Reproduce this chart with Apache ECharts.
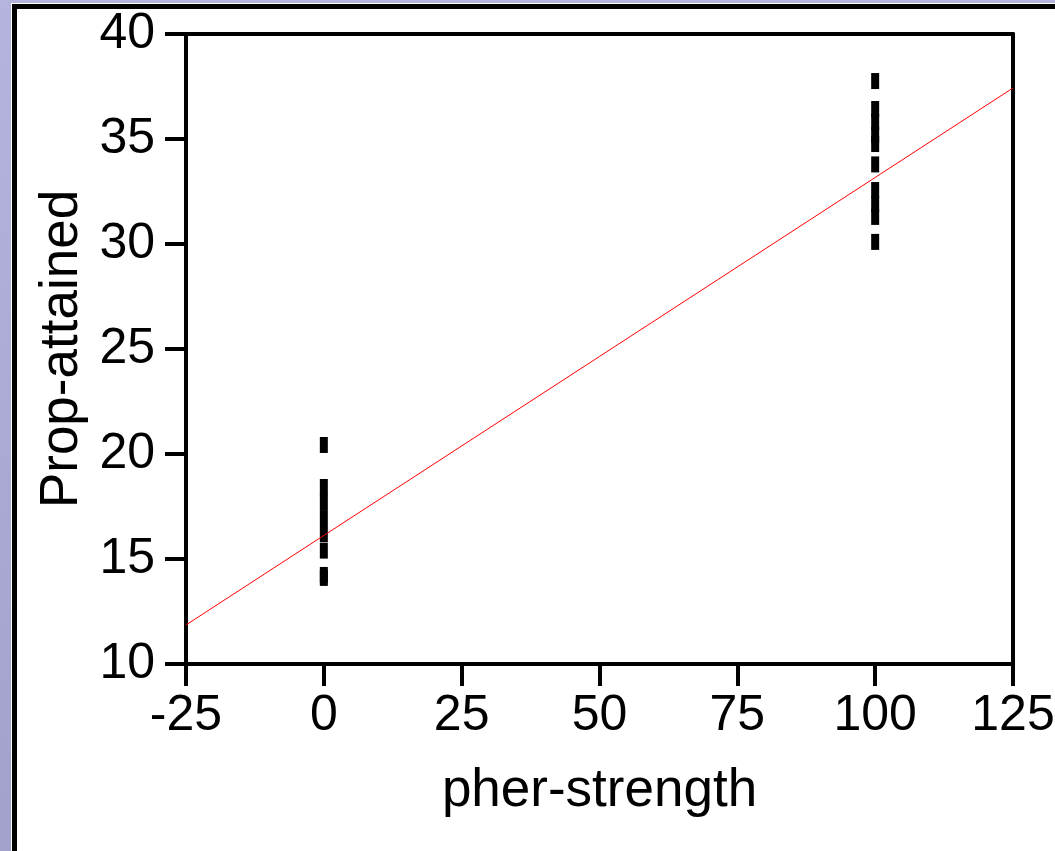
<!DOCTYPE html>
<html>
<head>
<meta charset="utf-8">
<script src="https://cdn.jsdelivr.net/npm/echarts@6/dist/echarts.min.js"></script>
<style>
	html, body {
		margin: 0;
		padding: 0;
		width: 1055px;
		height: 851px;
		overflow: hidden;
		background: linear-gradient(to bottom, #b4b4dd, #a2a1ca);
	}

	#panel {
		position: absolute;
		left: 12px;
		top: 4px;
		width: 1060px;
		height: 860px;
		background-color: #FFF;
		border: 5px solid #000;
		box-shadow: 0 0 0 1px #FFF;
	}

	#echart {
		position: absolute;
		left: 0;
		top: 0;
		width: 1055px;
		height: 851px;
	}
</style>
</head>
<body>
<div id="panel"></div>
<div id="echart"></div>
<script>
	// 刻度
	var xTicks = [-25, 125, 25];   // min, max, interval
	var yTicks = [10, 40, 5];

	// pher-strength = 0 组
	var group0X = [0, 0, 0, 0, 0, 0, 0, 0];
	var group0Y = [20.43, 18.43, 17.71, 16.95, 16.19, 15.40, 14.24, 14.10];

	// pher-strength = 100 组
	var group100X = [100, 100, 100, 100, 100, 100, 100, 100, 100, 100];
	var group100Y = [37.76, 36.43, 35.81, 35.19, 34.76, 33.79, 32.57, 31.90, 31.29, 30.10];

	// 拟合直线 (两端)
	var fitX = [-25, 125];
	var fitY = [11.86, 37.43];

	function pairs(xs, ys) {
		return xs.map(function (x, i) { return [x, ys[i]]; });
	}

	var font = "'Liberation Sans', Arial, sans-serif";

	var myChart = echarts.init(document.getElementById("echart"));
	myChart.setOption({
		animation: false,
		grid: {
			left: 186,
			right: 42,
			top: 34,
			bottom: 187,
			containLabel: false,
			outerBoundsMode: 'none'
		},
		xAxis: [{
			type: 'value',
			min: xTicks[0],
			max: xTicks[1],
			interval: xTicks[2],
			name: 'pher-strength',
			nameLocation: 'middle',
			nameGap: 101,
			nameTextStyle: { color: '#000', fontSize: 53, fontFamily: font },
			splitLine: { show: false },
			axisLine: { onZero: false, lineStyle: { color: '#000', width: 4 } }, // 坐标轴
			axisTick: { inside: false, length: 22, lineStyle: { color: '#000', width: 4 } },
			axisLabel: {
				color: '#000',
				fontSize: 50,
				fontFamily: font,
				margin: 27,
				showMinLabel: true,
				showMaxLabel: true
			}
		}, {
			type: 'value',
			position: 'top',
			min: xTicks[0],
			max: xTicks[1],
			splitLine: { show: false },
			axisLine: { onZero: false, lineStyle: { color: '#000', width: 4 } },
			axisTick: { show: false },
			axisLabel: { show: false }
		}],
		yAxis: [{
			type: 'value',
			min: yTicks[0],
			max: yTicks[1],
			interval: yTicks[2],
			name: 'Prop-attained',
			nameLocation: 'middle',
			nameGap: 85,
			nameTextStyle: { color: '#000', fontSize: 53, fontFamily: font },
			splitLine: { show: false },
			axisLine: { show: true, onZero: false, lineStyle: { color: '#000', width: 4 } },
			axisTick: { show: true, inside: false, length: 21, lineStyle: { color: '#000', width: 4 } },
			axisLabel: {
				color: '#000',
				fontSize: 50,
				fontFamily: font,
				margin: 31,
				showMinLabel: true,
				showMaxLabel: true
			}
		}, {
			type: 'value',
			position: 'right',
			min: yTicks[0],
			max: yTicks[1],
			splitLine: { show: false },
			axisLine: { show: true, onZero: false, lineStyle: { color: '#000', width: 4 } },
			axisTick: { show: false },
			axisLabel: { show: false }
		}],
		series: [{
			type: 'line',
			data: pairs(fitX, fitY),
			symbol: 'none',
			lineStyle: { color: '#ff0000', width: 1 },
			z: 3
		}, {
			type: 'scatter',
			data: pairs(group0X, group0Y),
			symbol: 'rect',
			symbolSize: [8, 16],
			itemStyle: { color: '#000', opacity: 1 },
			z: 2
		}, {
			type: 'scatter',
			data: pairs(group100X, group100Y),
			symbol: 'rect',
			symbolSize: [8, 16],
			itemStyle: { color: '#000', opacity: 1 },
			z: 2
		}]
	});
</script>
</body>
</html>
